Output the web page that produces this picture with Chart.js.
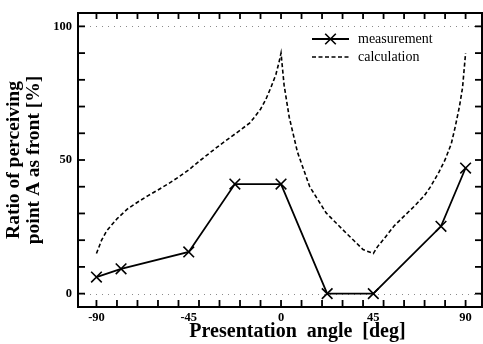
<!DOCTYPE html>
<html>
<head>
<meta charset="utf-8">
<script src="https://cdn.jsdelivr.net/npm/chart.js@4"></script>
<style>
  html, body { margin: 0; padding: 0; background: #fff; }
  #wrap { width: 483px; height: 344px; }
</style>
</head>
<body>
<div id="wrap"><canvas id="c" width="483" height="344"></canvas></div>
<script>
// ---- data ----
const measAngles = [-90, -78, -45, -22.5, 0, 22.5, 45, 78, 90];
const measValues = [6.2, 9.3, 15.6, 41, 41, 0, 0, 25.2, 47];

const calcAngles = [-90, -87.5, -85, -80, -75, -70, -65, -60, -55, -50, -45, -40, -35, -30, -25, -20, -15, -10, -7.5, -5, -2.5, -1, 0,
                    1.5, 4, 8, 14, 22, 30, 36, 40, 45, 47, 50, 55, 60, 65, 70, 73, 77, 80, 83, 85, 87, 88.5, 90];
const calcValues = [15, 20, 23.5, 28, 31.6, 34.2, 36.6, 38.8, 41.1, 43.6, 46.3, 49.5, 52.5, 55.5, 58.3, 61.1, 64, 69, 72.5, 77, 82, 86.5, 90,
                    78, 66, 53, 40, 30.2, 24, 19.5, 16.5, 15, 17.5, 20.3, 25.2, 29, 32.7, 36.8, 40.1, 45.5, 50.1, 56, 62.6, 70, 77, 90];

const seriesNames = ['measurement', 'calculation'];
const xLabelValues = [-90, -45, 0, 45, 90];
const yLabelValues = [0, 50, 100];
const xMarkValues = [-90, -80, -70, -60, -50, -40, -30, -20, -10, 0, 10, 20, 30, 40, 50, 60, 70, 80, 90];
const yMarkValues = [0, 10, 20, 30, 40, 50, 60, 70, 80, 90, 100];
const xTitle = '       Presentation  angle  [deg]';
const yTitle = ['Ratio of perceiving', 'point A as front [%]'];

const FONT = '"Liberation Serif", "Times New Roman", serif';

const boxPlugin = {
  id: 'boxPlugin',
  beforeDatasetsDraw(chart) {
    const {ctx, chartArea: a, scales: {x, y}} = chart;
    ctx.save();
    ctx.strokeStyle = '#8a8a8a';
    ctx.lineWidth = 1;
    ctx.setLineDash([1, 5]);
    [0, 100].forEach(v => {
      const py = Math.round(y.getPixelForValue(v)) + 0.5;
      ctx.beginPath(); ctx.moveTo(a.left, py); ctx.lineTo(a.right, py); ctx.stroke();
    });
    ctx.restore();
  },
  afterDraw(chart) {
    const {ctx, chartArea: a, scales: {x, y}} = chart;
    ctx.save();
    ctx.strokeStyle = '#000';
    ctx.lineWidth = 1.8;
    ctx.setLineDash([]);
    // inward tick marks
    const tl = 7;
    xMarkValues.forEach(v => {
      const px = x.getPixelForValue(v);
      ctx.beginPath(); ctx.moveTo(px, a.bottom); ctx.lineTo(px, a.bottom - tl); ctx.stroke();
      ctx.beginPath(); ctx.moveTo(px, a.top); ctx.lineTo(px, a.top + tl - 1); ctx.stroke();
    });
    yMarkValues.forEach(v => {
      const py = y.getPixelForValue(v);
      ctx.beginPath(); ctx.moveTo(a.left, py); ctx.lineTo(a.left + tl, py); ctx.stroke();
      ctx.beginPath(); ctx.moveTo(a.right, py); ctx.lineTo(a.right - tl, py); ctx.stroke();
    });
    // frame
    ctx.lineWidth = 2;
    ctx.strokeRect(a.left, a.top, a.right - a.left, a.bottom - a.top);

    // legend inside plot
    const ds = chart.data.datasets;
    const lx0 = a.left + 234, lx1 = a.left + 271, tx = a.left + 280;
    const ly0 = a.top + 26, ly1 = a.top + 44;
    ctx.lineWidth = ds[0].borderWidth;
    ctx.strokeStyle = ds[0].borderColor;
    ctx.beginPath(); ctx.moveTo(lx0, ly0); ctx.lineTo(lx1, ly0); ctx.stroke();
    const cx = (lx0 + lx1) / 2, r = ds[0].pointRadius * 0.7071;
    ctx.lineWidth = ds[0].pointBorderWidth;
    ctx.beginPath();
    ctx.moveTo(cx - r, ly0 - r); ctx.lineTo(cx + r, ly0 + r);
    ctx.moveTo(cx + r, ly0 - r); ctx.lineTo(cx - r, ly0 + r);
    ctx.stroke();
    ctx.lineWidth = ds[1].borderWidth;
    ctx.strokeStyle = ds[1].borderColor;
    ctx.setLineDash(ds[1].borderDash);
    ctx.beginPath(); ctx.moveTo(lx0, ly1); ctx.lineTo(lx1, ly1); ctx.stroke();
    ctx.setLineDash([]);
    ctx.fillStyle = '#000';
    ctx.font = '14px ' + FONT;
    ctx.textBaseline = 'middle';
    ctx.textAlign = 'left';
    ctx.fillText(seriesNames[0], tx, ly0);
    ctx.fillText(seriesNames[1], tx, ly1);
    ctx.restore();
  }
};

const tickFont = {family: FONT, size: 12.5, weight: 'bold'};

new Chart(document.getElementById('c'), {
  type: 'scatter',
  data: {
    datasets: [
      {
        label: seriesNames[0],
        data: measAngles.map((a, i) => ({x: a, y: measValues[i]})),
        showLine: true,
        borderColor: '#000',
        backgroundColor: '#000',
        borderWidth: 1.8,
        pointStyle: 'crossRot',
        pointRadius: 7.5,
        pointBorderWidth: 1.6,
        pointBorderColor: '#000',
        tension: 0,
        order: 1
      },
      {
        label: seriesNames[1],
        data: calcAngles.map((a, i) => ({x: a, y: calcValues[i]})),
        showLine: true,
        borderColor: '#000',
        borderWidth: 1.6,
        borderDash: [4, 2.5],
        pointRadius: 0,
        tension: 0,
        order: 2
      }
    ]
  },
  options: {
    responsive: false,
    animation: false,
    devicePixelRatio: 1,
    layout: {autoPadding: false, padding: {top: 13, right: 1, left: 0, bottom: 0}},
    plugins: {legend: {display: false}, tooltip: {enabled: false}},
    scales: {
      x: {
        type: 'linear',
        min: -99, max: 98,
        afterBuildTicks: s => { s.ticks = xMarkValues.concat([-45, 45]).sort((p, q) => p - q).map(v => ({value: v})); },
        afterFit: s => { s.height = 37; s.paddingRight = 0; s.paddingLeft = 0; },
        grid: {display: false, drawTicks: false},
        border: {display: false},
        ticks: {
          autoSkip: false, maxRotation: 0, padding: 3,
          color: '#000', font: tickFont,
          callback: v => xLabelValues.includes(v) ? String(v) : ''
        },
        title: {
          display: true, text: xTitle, color: '#000',
          font: {family: FONT, size: 20, weight: 'bold', lineHeight: 1.0},
          padding: {top: 0, bottom: 2}
        }
      },
      y: {
        type: 'linear',
        min: -5, max: 105,
        afterBuildTicks: s => { s.ticks = yMarkValues.map(v => ({value: v})); },
        afterFit: s => { s.width = 78; s.paddingTop = 0; s.paddingBottom = 0; },
        grid: {display: false, drawTicks: false},
        border: {display: false},
        ticks: {
          autoSkip: false, padding: 6,
          color: '#000', font: tickFont,
          callback: v => yLabelValues.includes(v) ? String(v) : ''
        },
        title: {
          display: true, text: yTitle, color: '#000',
          font: {family: FONT, size: 19.5, weight: 'bold', lineHeight: 1.026},
          padding: {top: 3.5, bottom: 0}
        }
      }
    }
  },
  plugins: [boxPlugin]
});
</script>
</body>
</html>
